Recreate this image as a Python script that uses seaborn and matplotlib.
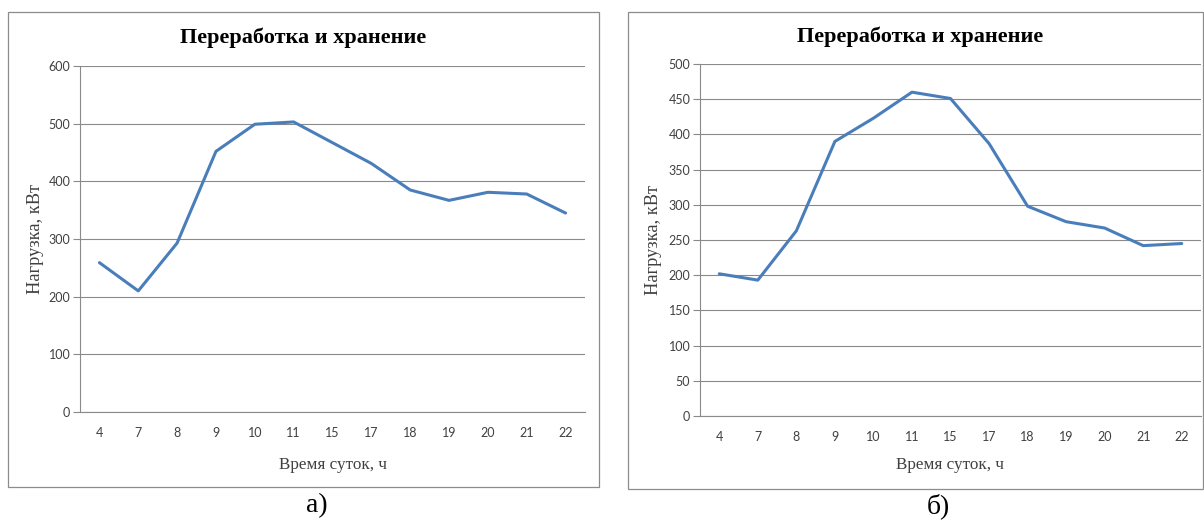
import matplotlib
matplotlib.use("Agg")
import matplotlib.pyplot as plt
import seaborn as sns
import pandas as pd
from matplotlib.patches import Rectangle

# Hours of the day (categorical x axis)
hours = ["4", "7", "8", "9", "10", "11", "15", "17", "18", "19", "20", "21", "22"]
# Load, kW — variant а)
load_a = [259, 210, 293, 452, 499, 503, 467, 431, 385, 367, 381, 378, 345]
# Load, kW — variant б)
load_b = [202, 193, 263, 390, 423, 460, 451, 387, 298, 276, 267, 242, 245]

y_ticks_a = [0, 100, 200, 300, 400, 500, 600]
y_ticks_b = [0, 50, 100, 150, 200, 250, 300, 350, 400, 450, 500]

title_text = "Переработка и хранение"
x_label = "Время суток, ч"
y_label = "Нагрузка, кВт"
panel_labels = ["а)", "б)"]

sns.set_theme(style="white")
plt.rcParams["font.family"] = ["Liberation Serif", "DejaVu Serif"]

W, H = 1204, 527
fig = plt.figure(figsize=(W / 100, H / 100), dpi=100)
fig.patch.set_facecolor("white")

LINE = "#4a7ebb"
GRID = "#8a8a8a"
TXT = "#404040"


def fx(x):
    return x / W


def fy(y):
    return 1 - y / H


def px_axes(left, top, right, bottom):
    return fig.add_axes([fx(left), fy(bottom), (right - left) / W, (bottom - top) / H])


def frame(left, top, right, bottom):
    fig.patches.append(Rectangle((fx(left), fy(bottom)), (right - left) / W, (bottom - top) / H,
                                 transform=fig.transFigure, fill=False,
                                 edgecolor="#8c8c8c", linewidth=0.9))


def panel(values, yticks, box, area, title_xy, xlab_xy, ylab_xy, plab_xy, plab):
    frame(*box)
    ax = px_axes(*area)
    df = pd.DataFrame({"hour": hours, "load": values})
    sns.lineplot(data=df, x="hour", y="load", sort=False, color=LINE, linewidth=2.2, ax=ax)
    ax.set_xlim(-0.5, len(hours) - 0.5)
    ax.set_ylim(yticks[0], yticks[-1])
    ax.set_xticks(range(len(hours)), labels=hours, fontfamily="Lato", fontsize=9, color=TXT)
    ax.set_yticks(yticks, labels=[str(v) for v in yticks], fontfamily="Lato", fontsize=9, color=TXT)
    ax.tick_params(axis="x", length=0, pad=11)
    ax.tick_params(axis="y", length=5, width=0.8, color=GRID, pad=2, left=True)
    ax.yaxis.grid(True, color=GRID, linewidth=0.8)
    ax.xaxis.grid(False)
    for s in ("top", "right"):
        ax.spines[s].set_visible(False)
    for s in ("left", "bottom"):
        ax.spines[s].set_color(GRID)
        ax.spines[s].set_linewidth(0.8)
    ax.set_xlabel("")
    ax.set_ylabel("")
    fig.text(fx(title_xy[0]), fy(title_xy[1]), title_text, ha="center", va="center",
             fontsize=16, fontweight="bold", color="black")
    fig.text(fx(xlab_xy[0]), fy(xlab_xy[1]), x_label, ha="center", va="center",
             fontsize=12.3, color=TXT)
    fig.text(fx(ylab_xy[0]), fy(ylab_xy[1]), y_label, ha="center", va="center",
             fontsize=13.2, color=TXT, rotation=90)
    fig.text(fx(plab_xy[0]), fy(plab_xy[1]), plab, ha="center", va="center",
             fontsize=20, color="black")


panel(load_a, y_ticks_a, (8, 12, 599, 487), (80, 66, 585, 412),
      (303, 38), (333, 465), (35, 239), (317, 506), panel_labels[0])
panel(load_b, y_ticks_b, (628, 12, 1203, 489), (700, 64, 1201, 416),
      (920, 37), (950, 465), (654, 240), (938, 506), panel_labels[1])

fig.savefig("out.png", dpi=100, facecolor="white")
